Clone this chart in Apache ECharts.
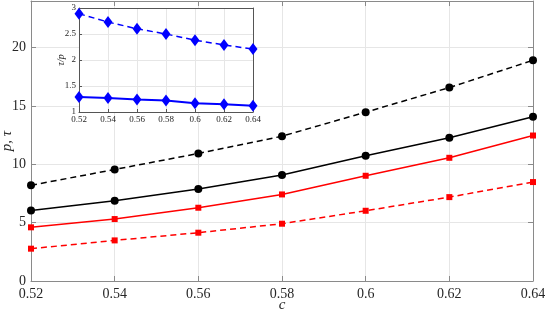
<!DOCTYPE html>
<html><head><meta charset="utf-8">
<script src="https://cdn.jsdelivr.net/npm/echarts@6/dist/echarts.min.js"></script>
<style>html,body{margin:0;padding:0;background:#fff}#c{width:545px;height:314px}</style>
</head><body><div id="c"></div>
<script>
const cVals = [0.52, 0.54, 0.56, 0.58, 0.6, 0.62, 0.64];
const blackDashed = [8.2, 9.56, 10.93, 12.41, 14.47, 16.58, 18.92];
const blackSolid = [6.05, 6.88, 7.88, 9.08, 10.73, 12.27, 14.07];
const redSolid = [4.6, 5.31, 6.28, 7.42, 9.02, 10.56, 12.47];
const redDashed = [2.77, 3.48, 4.14, 4.91, 6.02, 7.19, 8.48];
const ratioDashed = [2.89, 2.73, 2.60, 2.50, 2.38, 2.29, 2.21];
const ratioSolid = [1.29, 1.27, 1.24, 1.22, 1.17, 1.15, 1.12];

const pairs = (ys) => cVals.map((x, i) => [x, ys[i]]);
const fmt = v => String(+(+v).toFixed(2));
const FONT = 'Liberation Serif';
const grid0 = '#e6e6e6';
const axisCol = '#8a8a8a';

function xAx(gi, opts) {
  return Object.assign({
    type: 'value', gridIndex: gi, min: 0.52, max: 0.64, interval: 0.02,
    nameMoveOverlap: false,
    axisLine: {show: true, onZero: false, lineStyle: {color: axisCol, width: 1}},
    axisTick: {show: true, inside: true, length: 5, lineStyle: {color: axisCol}},
    splitLine: {show: true, lineStyle: {color: grid0}},
    axisLabel: {formatter: fmt, fontFamily: FONT, color: '#262626', fontSize: 14, margin: 6}
  }, opts);
}

const chart = echarts.init(document.getElementById('c'), null, {renderer: 'canvas'});
chart.setOption({
  animation: false,
  backgroundColor: '#fff',
  grid: [
    {left: 31, right: 12, top: 1, bottom: 33, show: false, containLabel: false, outerBoundsMode: 'none'},
    {left: 79, top: 8, width: 174, height: 104, show: true, backgroundColor: '#fff', borderWidth: 0, z: 5,
      containLabel: false, outerBoundsMode: 'none'}
  ],
  xAxis: [
    xAx(0, {name: 'c', nameLocation: 'middle', nameGap: 17,
      nameTextStyle: {fontFamily: FONT, fontStyle: 'italic', fontSize: 15, color: '#262626'}}),
    xAx(0, {position: 'top', axisLabel: {show: false}, splitLine: {show: false}}),
    xAx(1, {z: 6, axisLabel: {formatter: fmt, fontFamily: FONT, color: '#262626', fontSize: 9, margin: 3},
      axisLine: {show: true, onZero: false, lineStyle: {color: '#555', width: 1}},
      axisTick: {show: true, inside: true, length: 3, lineStyle: {color: '#555'}}}),
    xAx(1, {z: 6, position: 'top', axisLabel: {show: false}, splitLine: {show: false},
      axisLine: {show: true, onZero: false, lineStyle: {color: '#555', width: 1}},
      axisTick: {show: false}})
  ],
  yAxis: [
    {type: 'value', gridIndex: 0, min: 0, max: 24, interval: 5,
      name: 'p, τ', nameLocation: 'middle', nameGap: 16, nameMoveOverlap: false,
      nameTextStyle: {fontFamily: FONT, fontStyle: 'italic', fontSize: 15, color: '#262626'},
      axisLine: {show: true, lineStyle: {color: axisCol}},
      axisTick: {show: true, inside: true, length: 5, lineStyle: {color: axisCol}},
      splitLine: {show: true, lineStyle: {color: grid0}},
      axisLabel: {fontFamily: FONT, color: '#262626', fontSize: 14, margin: 5, showMaxLabel: false}},
    {type: 'value', gridIndex: 0, min: 0, max: 24, interval: 5, position: 'right',
      axisLine: {show: true, lineStyle: {color: axisCol}},
      axisTick: {show: true, inside: true, length: 5, lineStyle: {color: axisCol}},
      splitLine: {show: false}, axisLabel: {show: false}},
    {type: 'value', gridIndex: 1, min: 1, max: 3, interval: 0.5, z: 6,
      name: 'τ/p', nameLocation: 'middle', nameGap: 13, nameMoveOverlap: false,
      nameTextStyle: {fontFamily: FONT, fontStyle: 'italic', fontSize: 10, color: '#262626'},
      axisLine: {show: true, lineStyle: {color: '#555'}},
      axisTick: {show: true, inside: true, length: 3, lineStyle: {color: '#555'}},
      splitLine: {show: true, lineStyle: {color: grid0}},
      axisLabel: {fontFamily: FONT, color: '#262626', fontSize: 9, margin: 3}},
    {type: 'value', gridIndex: 1, min: 1, max: 3, interval: 0.5, position: 'right', z: 6,
      axisLine: {show: true, lineStyle: {color: '#555'}},
      axisTick: {show: false}, splitLine: {show: false}, axisLabel: {show: false}}
  ],
  series: [
    {type: 'line', xAxisIndex: 0, yAxisIndex: 0, data: pairs(blackDashed), symbol: 'circle', symbolSize: 8,
      lineStyle: {color: '#000', width: 1.5, type: [6, 4]}, itemStyle: {color: '#000'}},
    {type: 'line', xAxisIndex: 0, yAxisIndex: 0, data: pairs(blackSolid), symbol: 'circle', symbolSize: 8,
      lineStyle: {color: '#000', width: 1.5}, itemStyle: {color: '#000'}},
    {type: 'line', xAxisIndex: 0, yAxisIndex: 0, data: pairs(redSolid), symbol: 'rect', symbolSize: 6,
      lineStyle: {color: '#ff0000', width: 1.5}, itemStyle: {color: '#ff0000'}},
    {type: 'line', xAxisIndex: 0, yAxisIndex: 0, data: pairs(redDashed), symbol: 'rect', symbolSize: 6,
      lineStyle: {color: '#ff0000', width: 1.5, type: [6, 4]}, itemStyle: {color: '#ff0000'}},
    {type: 'line', xAxisIndex: 2, yAxisIndex: 2, data: pairs(ratioDashed), symbol: 'diamond', symbolSize: [9, 12], z: 7,
      lineStyle: {color: '#0000ff', width: 1.5, type: [6, 4]}, itemStyle: {color: '#0000ff'}},
    {type: 'line', xAxisIndex: 2, yAxisIndex: 2, data: pairs(ratioSolid), symbol: 'diamond', symbolSize: [9, 12], z: 7,
      lineStyle: {color: '#0000ff', width: 2}, itemStyle: {color: '#0000ff'}}
  ]
});
</script></body></html>
